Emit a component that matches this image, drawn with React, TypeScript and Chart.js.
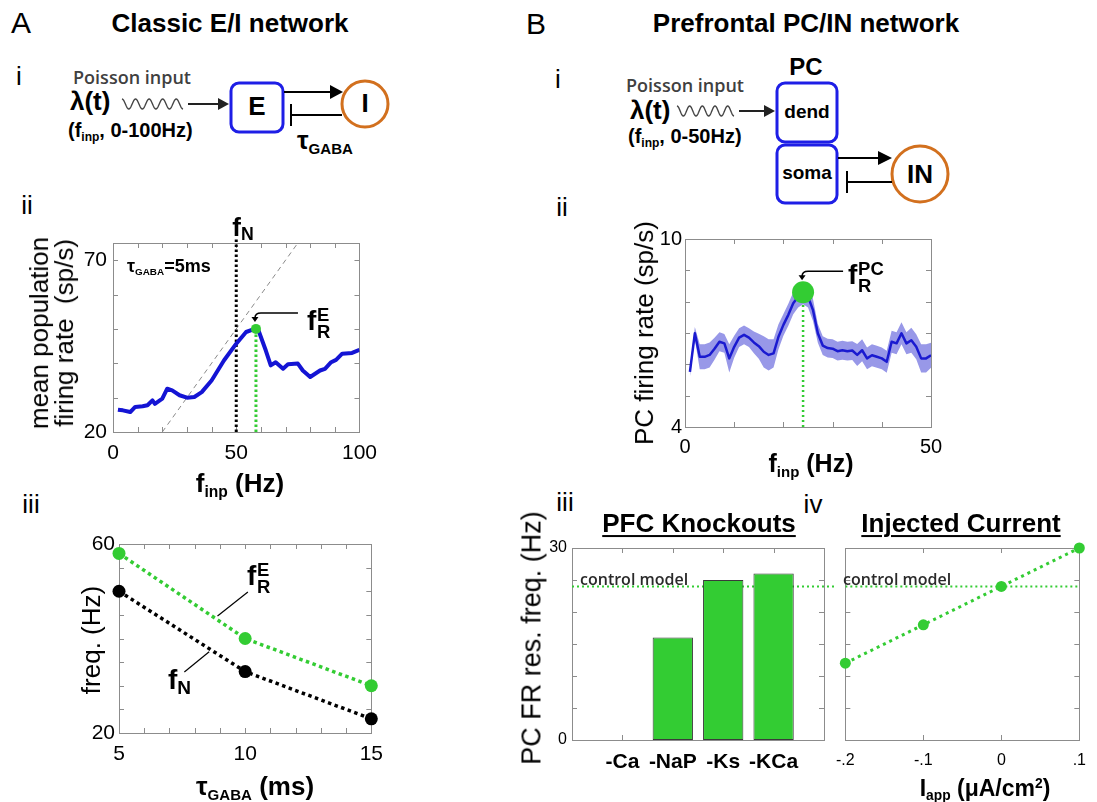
import React, { useEffect, useRef } from 'react';
import { Chart, registerables } from 'chart.js';
Chart.register(...registerables);

// ---------------- data ----------------
// A ii : mean population firing rate vs input frequency (tau_GABA = 5 ms)
const aiiFinp = [2, 4, 7, 9, 12, 14, 16, 17, 20, 22, 24, 27, 30, 33, 36, 40, 45, 50, 54, 57.5, 59, 62, 64, 66, 69, 71, 75, 77, 80, 84, 86, 88.5, 90.5, 93, 97, 100];
const aiiRate = [26.5, 26.3, 25.8, 27.3, 27.5, 27.8, 29.2, 28.2, 29.7, 32.6, 32.1, 30.7, 30.0, 30.2, 31.6, 35.0, 40.8, 45.7, 49.1, 50.0, 49.6, 43.7, 39.4, 40.3, 38.4, 39.7, 39.9, 37.9, 36.0, 37.9, 38.4, 40.3, 41.0, 42.8, 43.0, 43.9];
const aiiIdentity = [20, 75];
const aiiNatFreq = 50;
const aiiResFreq = 58;
const aiiResRate = 50;
const aiiXLabeled = [0, 50, 100];
const aiiYLabeled = [20, 70];

// A iii : resonance / natural frequency vs tau_GABA
const tauGaba = [5, 10, 15];
const fResE = [58, 40, 30];
const fNat = [50, 33, 23];
const aiiiXLabeled = [5, 10, 15];
const aiiiYLabeled = [20, 60];

// B ii : PC firing rate vs input frequency
const biiFinp = [1, 2, 3, 4, 5, 6, 7, 8, 9, 10, 11, 12, 13, 14, 15, 16, 17, 18, 19, 20, 21, 22, 23, 24, 25, 26, 27, 28, 29, 30, 31, 32, 33, 34, 35, 36, 37, 38, 39, 40, 41, 42, 43, 44, 45, 46, 47, 48, 49, 50];
const biiRate = [5.76, 6.99, 6.24, 6.24, 6.3, 6.5, 6.72, 6.67, 6.19, 6.56, 6.85, 6.94, 6.85, 6.7, 6.58, 6.4, 6.3, 6.35, 6.88, 7.26, 7.58, 7.95, 8.16, 8.27, 8.16, 7.74, 6.99, 6.6, 6.52, 6.5, 6.42, 6.45, 6.42, 6.44, 6.3, 6.45, 6.19, 6.29, 6.24, 6.19, 6.08, 6.72, 6.67, 6.99, 6.67, 6.77, 6.56, 6.19, 6.19, 6.29];
const biiSd = [0.15, 0.2, 0.4, 0.4, 0.4, 0.35, 0.3, 0.3, 0.45, 0.35, 0.3, 0.3, 0.3, 0.35, 0.4, 0.5, 0.5, 0.45, 0.4, 0.35, 0.35, 0.35, 0.35, 0.35, 0.35, 0.35, 0.3, 0.3, 0.3, 0.3, 0.3, 0.3, 0.3, 0.3, 0.35, 0.35, 0.35, 0.35, 0.35, 0.35, 0.35, 0.35, 0.35, 0.35, 0.35, 0.4, 0.4, 0.45, 0.45, 0.4];
const biiResFreq = 24;
const biiResRate = 8.3;
const biiXLabeled = [0, 50];
const biiYLabeled = [4, 10];

// B iii : knockouts
const knockoutLabels = ['-Ca', '-NaP', '-Ks', '-KCa'];
const knockoutFreq = [0, 16, 25, 26];
const controlFreq = 24;
const biiiYLabeled = [0, 30];

// B iv : injected current
const iapp = [-0.2, -0.1, 0, 0.1];
const iappFreq = [12, 18, 24, 30];
const iappTickLabels = ['-.2', '-.1', '0', '.1'];

// ---------------- styles ----------------
const FONT = "'Liberation Sans', Arial, Helvetica, sans-serif";
const CAL = "'Open Sans', 'Liberation Sans', sans-serif";
const GREEN = '#33cc33';
const BLUE = '#1414d4';
const AXIS = '#8c8c8c';
const DIAG_BLUE = '#1e1ee6';
const ORANGE = '#d2701e';

const boxTicks = {
  id: 'boxTicks',
  beforeDatasetsDraw(chart: any) {
    const { ctx, chartArea: a, scales } = chart;
    const L = 5;
    ctx.save();
    ctx.strokeStyle = AXIS;
    ctx.lineWidth = 1;
    ctx.beginPath();
    for (const t of scales.x.ticks) {
      const p = Math.round(scales.x.getPixelForValue(t.value)) + 0.5;
      if (p < a.left + 2 || p > a.right - 2) continue;
      ctx.moveTo(p, a.bottom); ctx.lineTo(p, a.bottom - L);
      ctx.moveTo(p, a.top); ctx.lineTo(p, a.top + L);
    }
    for (const t of scales.y.ticks) {
      const p = Math.round(scales.y.getPixelForValue(t.value)) + 0.5;
      if (p < a.top + 2 || p > a.bottom - 2) continue;
      ctx.moveTo(a.left, p); ctx.lineTo(a.left + L, p);
      ctx.moveTo(a.right, p); ctx.lineTo(a.right - L, p);
    }
    ctx.stroke();
    ctx.strokeRect(Math.round(a.left) + 0.5, Math.round(a.top) + 0.5, Math.round(a.width), Math.round(a.height));
    ctx.restore();
  },
};

function arrowTo(xv: number, yv: number, len: number, rise: number, gap: number) {
  return {
    id: 'arrowTo',
    afterDatasetsDraw(chart: any) {
      const { ctx, scales } = chart;
      const px = scales.x.getPixelForValue(xv) - 1;
      const py = scales.y.getPixelForValue(yv);
      const hy = py - rise;
      const tip = py - gap;
      ctx.save();
      ctx.strokeStyle = '#000';
      ctx.fillStyle = '#000';
      ctx.lineWidth = 1.5;
      ctx.beginPath();
      ctx.moveTo(px + len, hy);
      ctx.lineTo(px + 6, hy);
      ctx.quadraticCurveTo(px, hy, px, hy + 5);
      ctx.lineTo(px, tip - 4);
      ctx.stroke();
      ctx.beginPath();
      ctx.moveTo(px - 3.5, tip - 5);
      ctx.lineTo(px + 3.5, tip - 5);
      ctx.lineTo(px, tip);
      ctx.closePath();
      ctx.fill();
      ctx.restore();
    },
  };
}

function interp(xs: number[], ys: number[], x: number) {
  for (let i = 1; i < xs.length; i++) {
    if (x <= xs[i]) {
      const t = (x - xs[i - 1]) / (xs[i] - xs[i - 1]);
      return ys[i - 1] + t * (ys[i] - ys[i - 1]);
    }
  }
  return ys[ys.length - 1];
}

function leaders(items: { xs: number[]; ys: number[]; at: number; dx: number; dy: number }[]) {
  return {
    id: 'leaders',
    afterDatasetsDraw(chart: any) {
      const { ctx, scales } = chart;
      ctx.save();
      ctx.strokeStyle = '#000';
      ctx.lineWidth = 1.2;
      for (const it of items) {
        const px = scales.x.getPixelForValue(it.at);
        const py = scales.y.getPixelForValue(interp(it.xs, it.ys, it.at));
        ctx.beginPath();
        ctx.moveTo(px + it.dx * 0.08, py + it.dy * 0.08);
        ctx.lineTo(px + it.dx, py + it.dy);
        ctx.stroke();
      }
      ctx.restore();
    },
  };
}

type Frame = { left: number; top: number; right: number; bottom: number; padL: number; padT: number; padR: number; padB: number };

function rectOf(f: Frame) {
  return { x: f.left - f.padL, y: f.top - f.padT, w: f.right - f.left + f.padL + f.padR, h: f.bottom - f.top + f.padT + f.padB };
}

function axis(o: any) {
  return {
    type: 'linear',
    min: o.min,
    max: o.max,
    offset: false,
    afterFit: (s: any) => {
      if (o.horizontal) s.height = o.fit;
      else s.width = o.fit;
    },
    grid: { display: false, drawTicks: false },
    border: { display: false },
    ticks: {
      display: o.display !== false,
      stepSize: o.step,
      autoSkip: false,
      maxRotation: 0,
      minRotation: 0,
      includeBounds: false,
      padding: o.pad,
      color: '#000',
      font: { family: FONT, size: o.size, weight: o.weight || 'normal' },
      callback: o.labels,
    },
  };
}

function baseOptions(f: Frame, x: any, y: any) {
  return {
    animation: false,
    responsive: false,
    maintainAspectRatio: false,
    events: [],
    layout: { padding: { left: 0, top: f.padT, right: f.padR, bottom: 0 } },
    plugins: { legend: { display: false }, tooltip: { enabled: false } },
    scales: { x: { ...axis({ ...x, horizontal: true, fit: f.padB }) }, y: { ...axis({ ...y, fit: f.padL }) } },
  };
}

const near = (arr: number[], v: number) => arr.some((a) => Math.abs(a - v) < 1e-6);

// ---------------- frames ----------------
const fAii: Frame = { left: 113, top: 243, right: 366, bottom: 432, padL: 40, padT: 20, padR: 20, padB: 40 };
const fAiii: Frame = { left: 119, top: 544, right: 372, bottom: 733, padL: 40, padT: 20, padR: 20, padB: 40 };
const fBii: Frame = { left: 685, top: 239, right: 931, bottom: 427, padL: 40, padT: 20, padR: 20, padB: 40 };
const fBiii: Frame = { left: 572, top: 548, right: 824, bottom: 740, padL: 30, padT: 20, padR: 12, padB: 40 };
const fBiv: Frame = { left: 835, top: 548, right: 1087, bottom: 740, padL: 10, padT: 20, padR: 10, padB: 40 };

const fnLineTop = 76.7;

function cfgAii() {
  return {
    type: 'line',
    data: {
      datasets: [
        { data: aiiIdentity.map((v) => ({ x: v, y: v })), borderColor: '#8a8a8a', borderWidth: 1, borderDash: [5, 4], pointRadius: 0, order: 5 },
        { data: [{ x: aiiNatFreq, y: 20 }, { x: aiiNatFreq, y: fnLineTop }], borderColor: '#000', borderWidth: 3, borderDash: [2.5, 2.5], pointRadius: 0, clip: false, order: 4 },
        { data: aiiFinp.map((x, i) => ({ x, y: aiiRate[i] })), borderColor: BLUE, borderWidth: 4, pointRadius: 0, borderJoinStyle: 'round', order: 3 },
        { data: [{ x: aiiResFreq, y: 20 }, { x: aiiResFreq, y: aiiResRate }], borderColor: GREEN, borderWidth: 3, borderDash: [2.5, 2.5], pointRadius: 0, order: 2 },
        { data: [{ x: aiiResFreq, y: aiiResRate }], showLine: false, pointRadius: 5, pointBackgroundColor: GREEN, pointBorderWidth: 0, order: 1 },
      ],
    },
    options: baseOptions(
      fAii,
      { min: 0, max: 100, step: 10, size: 21, pad: 9, labels: (v: number) => (near(aiiXLabeled, v) ? String(v) : '') },
      { min: 20, max: 75, step: 10, size: 21, pad: 6, labels: (v: number) => (near(aiiYLabeled, v) ? String(v) : '') }
    ),
    plugins: [boxTicks, arrowTo(aiiResFreq, aiiResRate, 43, 16, 7)],
  };
}

function cfgAiii() {
  return {
    type: 'line',
    data: {
      datasets: [
        { data: tauGaba.map((x, i) => ({ x, y: fResE[i] })), borderColor: GREEN, borderWidth: 3.5, borderDash: [3.5, 3.5], pointRadius: 6.5, pointBackgroundColor: GREEN, pointBorderWidth: 0, clip: false, order: 1 },
        { data: tauGaba.map((x, i) => ({ x, y: fNat[i] })), borderColor: '#000', borderWidth: 3.5, borderDash: [3.5, 3.5], pointRadius: 6.5, pointBackgroundColor: '#000', pointBorderWidth: 0, clip: false, order: 2 },
      ],
    },
    options: baseOptions(
      fAiii,
      { min: 5, max: 15, step: 1, size: 21, pad: 9, labels: (v: number) => (near(aiiiXLabeled, v) ? String(v) : '') },
      { min: 20, max: 60, step: 5, size: 21, pad: 4, labels: (v: number) => (near(aiiiYLabeled, v) ? String(v) : '') }
    ),
    plugins: [
      boxTicks,
      leaders([
        { xs: tauGaba, ys: fResE, at: 8.8, dx: 33, dy: -26 },
        { xs: tauGaba, ys: fNat, at: 8.66, dx: -27, dy: 22 },
      ]),
    ],
  };
}

function cfgBii() {
  return {
    type: 'line',
    data: {
      datasets: [
        { data: biiFinp.map((x, i) => ({ x, y: biiRate[i] - biiSd[i] })), borderWidth: 0, pointRadius: 0, fill: false, order: 5 },
        { data: biiFinp.map((x, i) => ({ x, y: biiRate[i] + biiSd[i] })), borderWidth: 0, pointRadius: 0, fill: '-1', backgroundColor: '#9898e8', order: 4 },
        { data: biiFinp.map((x, i) => ({ x, y: biiRate[i] })), borderColor: '#1a1ad0', borderWidth: 2.5, pointRadius: 0, borderJoinStyle: 'round', order: 3 },
        { data: [{ x: biiResFreq, y: 4 }, { x: biiResFreq, y: biiResRate }], borderColor: GREEN, borderWidth: 2.5, borderDash: [2, 3], pointRadius: 0, order: 2 },
        { data: [{ x: biiResFreq, y: biiResRate }], showLine: false, pointRadius: 11, pointBackgroundColor: GREEN, pointBorderWidth: 0, order: 1 },
      ],
    },
    options: baseOptions(
      fBii,
      { min: 0, max: 50, step: 10, size: 20, pad: 8, labels: (v: number) => (near(biiXLabeled, v) ? String(v) : '') },
      { min: 4, max: 10, step: 1, size: 20, pad: 3, labels: (v: number) => (near(biiYLabeled, v) ? String(v) : '') }
    ),
    plugins: [boxTicks, arrowTo(biiResFreq, biiResRate, 41, 21, 12)],
  };
}

function cfgBiii() {
  return {
    type: 'bar',
    data: {
      datasets: [
        {
          type: 'bar',
          data: knockoutFreq.map((v, i) => ({ x: i + 1, y: v })),
          backgroundColor: GREEN,
          borderColor: '#3a3a3a',
          borderWidth: (c: any) => (c.raw && c.raw.y === 0 ? 0 : 1),
          borderSkipped: false,
          barPercentage: 0.8,
          categoryPercentage: 1,
          order: 1,
        },
        { type: 'line', data: [{ x: 0, y: controlFreq }, { x: 5.2, y: controlFreq }], borderColor: GREEN, borderWidth: 2, borderDash: [2, 3], pointRadius: 0, clip: false, order: 2 },
      ],
    },
    options: baseOptions(
      fBiii,
      { min: 0, max: 5, step: 1, size: 21, weight: 'bold', pad: 10, labels: (v: number) => knockoutLabels[Math.round(v) - 1] ?? '' },
      { min: 0, max: 30, step: 5, size: 16, pad: 5, labels: (v: number) => (near(biiiYLabeled, v) ? String(v) : '') }
    ),
    plugins: [boxTicks],
  };
}

function cfgBiv() {
  return {
    type: 'line',
    data: {
      datasets: [
        { data: [{ x: iapp[0], y: controlFreq }, { x: iapp[iapp.length - 1], y: controlFreq }], borderColor: GREEN, borderWidth: 2, borderDash: [2, 3], pointRadius: 0, order: 2 },
        { data: iapp.map((x, i) => ({ x, y: iappFreq[i] })), borderColor: GREEN, borderWidth: 3, borderDash: [3, 4], pointRadius: 5.5, pointBackgroundColor: GREEN, pointBorderWidth: 0, clip: false, order: 1 },
      ],
    },
    options: baseOptions(
      fBiv,
      { min: -0.2, max: 0.1, step: 0.1, size: 16, pad: 11, labels: (v: number) => iappTickLabels[Math.round(v * 10) + 2] ?? '' },
      { min: 0, max: 30, step: 5, size: 14, pad: 3, display: false, labels: () => '' }
    ),
    plugins: [boxTicks],
  };
}

function PanelChart({ frame, make }: { frame: Frame; make: () => any }) {
  const ref = useRef<HTMLCanvasElement | null>(null);
  const r = rectOf(frame);
  useEffect(() => {
    const chart = new Chart(ref.current as HTMLCanvasElement, make());
    return () => chart.destroy();
  }, []);
  return <canvas ref={ref} width={r.w} height={r.h} style={{ position: 'absolute', left: r.x, top: r.y, width: r.w, height: r.h }} />;
}

// ---------------- text helpers ----------------
function Label(p: any) {
  const align = p.align || 'center';
  const tx = align === 'left' ? '0' : align === 'right' ? '-100%' : '-50%';
  return (
    <div
      style={{
        position: 'absolute',
        left: p.x,
        top: p.y,
        transform: `translate(${tx},-50%)${p.rot ? ' rotate(-90deg)' : ''}`,
        fontFamily: p.family || FONT,
        fontSize: p.size,
        fontWeight: p.bold ? 700 : p.weight || 400,
        color: p.color || '#000',
        whiteSpace: 'pre',
        lineHeight: p.lh || 1.15,
        textAlign: 'center',
        textDecoration: p.underline ? 'underline' : 'none',
        textDecorationThickness: p.underline ? '2px' : undefined,
        textUnderlineOffset: p.underline ? '3px' : undefined,
      }}
    >
      {p.children}
    </div>
  );
}

const Sub = ({ t, s = 0.6, d = 0.32 }: any) => <span style={{ fontSize: `${s}em`, position: 'relative', top: `${d}em` }}>{t}</span>;
const Sup = ({ t, s = 0.6, d = -0.6 }: any) => <span style={{ fontSize: `${s}em`, position: 'relative', top: `${d}em` }}>{t}</span>;
const SubSup = ({ sub, sup, s = 0.66 }: any) => (
  <span style={{ display: 'inline-block', verticalAlign: 'middle', fontSize: `${s}em`, lineHeight: 0.92, marginLeft: '0.04em', textAlign: 'left' }}>
    <span style={{ display: 'block' }}>{sup}</span>
    <span style={{ display: 'block' }}>{sub}</span>
  </span>
);

function wavePath(x0: number, x1: number, yc: number, amp: number, cycles: number) {
  const n = Math.round(cycles * 24);
  let d = '';
  for (let i = 0; i <= n; i++) {
    const t = i / n;
    const x = x0 + (x1 - x0) * t;
    const y = yc - amp * Math.cos(2 * Math.PI * cycles * t);
    d += `${i === 0 ? 'M' : 'L'}${x.toFixed(2)},${y.toFixed(2)} `;
  }
  return d;
}

function Diagrams() {
  return (
    <svg width={1097} height={802} style={{ position: 'absolute', left: 0, top: 0, pointerEvents: 'none' }}>
      {/* A i */}
      <path d={wavePath(122, 183, 104, 5, 4.5)} fill="none" stroke="#444" strokeWidth={1.4} />
      <line x1={188} y1={104} x2={220} y2={104} stroke="#222" strokeWidth={2} />
      <polygon points="218,98 229,104 218,110" fill="#222" />
      <rect x={231} y={83} width={52} height={49} rx={8} fill="none" stroke={DIAG_BLUE} strokeWidth={3} />
      <line x1={284} y1={92} x2={333} y2={92} stroke="#000" strokeWidth={2} />
      <polygon points="330,85 343,92 330,99" fill="#000" />
      <circle cx={365} cy={104} r={23} fill="none" stroke={ORANGE} strokeWidth={3} />
      <line x1={342} y1={115} x2={291} y2={115} stroke="#000" strokeWidth={2} />
      <line x1={291} y1={104} x2={291} y2={126} stroke="#000" strokeWidth={2} />
      {/* B i */}
      <path d={wavePath(677, 734, 111, 5, 4.5)} fill="none" stroke="#444" strokeWidth={1.4} />
      <line x1={739} y1={111} x2={766} y2={111} stroke="#222" strokeWidth={2} />
      <polygon points="764,105 775,111 764,117" fill="#222" />
      <rect x={777} y={83} width={60} height={59} rx={8} fill="none" stroke={DIAG_BLUE} strokeWidth={3} />
      <rect x={777} y={145} width={60} height={58} rx={8} fill="none" stroke={DIAG_BLUE} strokeWidth={3} />
      <line x1={838} y1={158} x2={881} y2={158} stroke="#000" strokeWidth={2} />
      <polygon points="878,151 892,158 878,165" fill="#000" />
      <circle cx={920} cy={174} r={28} fill="none" stroke={ORANGE} strokeWidth={3} />
      <line x1={892} y1={182} x2={847} y2={182} stroke="#000" strokeWidth={2} />
      <line x1={847} y1={171} x2={847} y2={193} stroke="#000" strokeWidth={2} />
    </svg>
  );
}

export default function App() {
  return (
    <div style={{ position: 'absolute', left: 0, top: 0, width: 1097, height: 802, background: '#fff', overflow: 'hidden' }}>
      <Diagrams />
      <PanelChart frame={fAii} make={cfgAii} />
      <PanelChart frame={fAiii} make={cfgAiii} />
      <PanelChart frame={fBii} make={cfgBii} />
      <PanelChart frame={fBiii} make={cfgBiii} />
      <PanelChart frame={fBiv} make={cfgBiv} />

      {/* headings */}
      <Label x={21} y={23} size={30}>A</Label>
      <Label x={230} y={24} size={26} bold>Classic E/I network</Label>
      <Label x={536} y={24} size={30}>B</Label>
      <Label x={806} y={24} size={26} bold>Prefrontal PC/IN network</Label>
      <Label x={19} y={77} size={26}>i</Label>
      <Label x={27} y={206} size={26}>ii</Label>
      <Label x={31} y={505} size={26}>iii</Label>
      <Label x={558} y={80} size={26}>i</Label>
      <Label x={562} y={208} size={26}>ii</Label>
      <Label x={565} y={503} size={26}>iii</Label>
      <Label x={813} y={505} size={26}>iv</Label>

      {/* A i diagram text */}
      <Label x={132} y={77} size={18} family={CAL} weight={600} color="#404040">Poisson input</Label>
      <Label x={70} y={102} size={26} bold align="left">λ(t)</Label>
      <Label x={68} y={130} size={20} bold align="left">(f<Sub t="inp" />, 0-100Hz)</Label>
      <Label x={257} y={107} size={26} bold>E</Label>
      <Label x={365} y={104} size={26} bold>I</Label>
      <Label x={297} y={141} size={26} bold align="left">τ<Sub t="GABA" s={0.58} d={0.3} /></Label>

      {/* B i diagram text */}
      <Label x={685} y={85} size={18} family={CAL} weight={600} color="#404040">Poisson input</Label>
      <Label x={630} y={111} size={26} bold align="left">λ(t)</Label>
      <Label x={628} y={136} size={20} bold align="left">(f<Sub t="inp" />, 0-50Hz)</Label>
      <Label x={806} y={67} size={24} bold>PC</Label>
      <Label x={807} y={112} size={19} bold>dend</Label>
      <Label x={807} y={173} size={19} bold>soma</Label>
      <Label x={920} y={175} size={26} bold>IN</Label>

      {/* A ii */}
      <Label x={52} y={333} size={26} rot lh={0.96}>{'mean population\nfiring rate  (sp/s)'}</Label>
      <Label x={243} y={228} size={26} bold>f<Sub t="N" s={0.68} d={0.25} /></Label>
      <Label x={127} y={266} size={18} bold align="left">τ<Sub t="GABA" s={0.55} d={0.3} />=5ms</Label>
      <Label x={307} y={322} size={28} bold align="left">f<SubSup sub="R" sup="E" /></Label>
      <Label x={240} y={484} size={26} bold>f<Sub t="inp" /> (Hz)</Label>

      {/* A iii */}
      <Label x={247} y={577} size={28} bold align="left">f<SubSup sub="R" sup="E" /></Label>
      <Label x={168} y={680} size={28} bold align="left">f<Sub t="N" s={0.68} d={0.25} /></Label>
      <Label x={92} y={640} size={26} rot>freq. (Hz)</Label>
      <Label x={255} y={787} size={26} bold>τ<Sub t="GABA" s={0.58} d={0.3} /> (ms)</Label>

      {/* B ii */}
      <Label x={645} y={333} size={26} rot>PC firing rate (sp/s)</Label>
      <Label x={811} y={463} size={25} bold>f<Sub t="inp" /> (Hz)</Label>
      <Label x={848} y={276} size={28} bold align="left">f<SubSup sub="R" sup="PC" /></Label>

      {/* B iii / iv */}
      <Label x={532} y={638} size={27} rot>PC FR res. freq. (Hz)</Label>
      <Label x={699} y={524} size={26} bold underline>PFC Knockouts</Label>
      <Label x={961} y={524} size={26} bold underline>Injected Current</Label>
      <Label x={580} y={579} size={16} family={CAL} weight={600} color="#2a2a2a" align="left">control model</Label>
      <Label x={843} y={579} size={16} family={CAL} weight={600} color="#2a2a2a" align="left">control model</Label>
      <Label x={985} y={788} size={23} bold>I<Sub t="app" /> (μA/cm<Sup t="2" />)</Label>
    </div>
  );
}
